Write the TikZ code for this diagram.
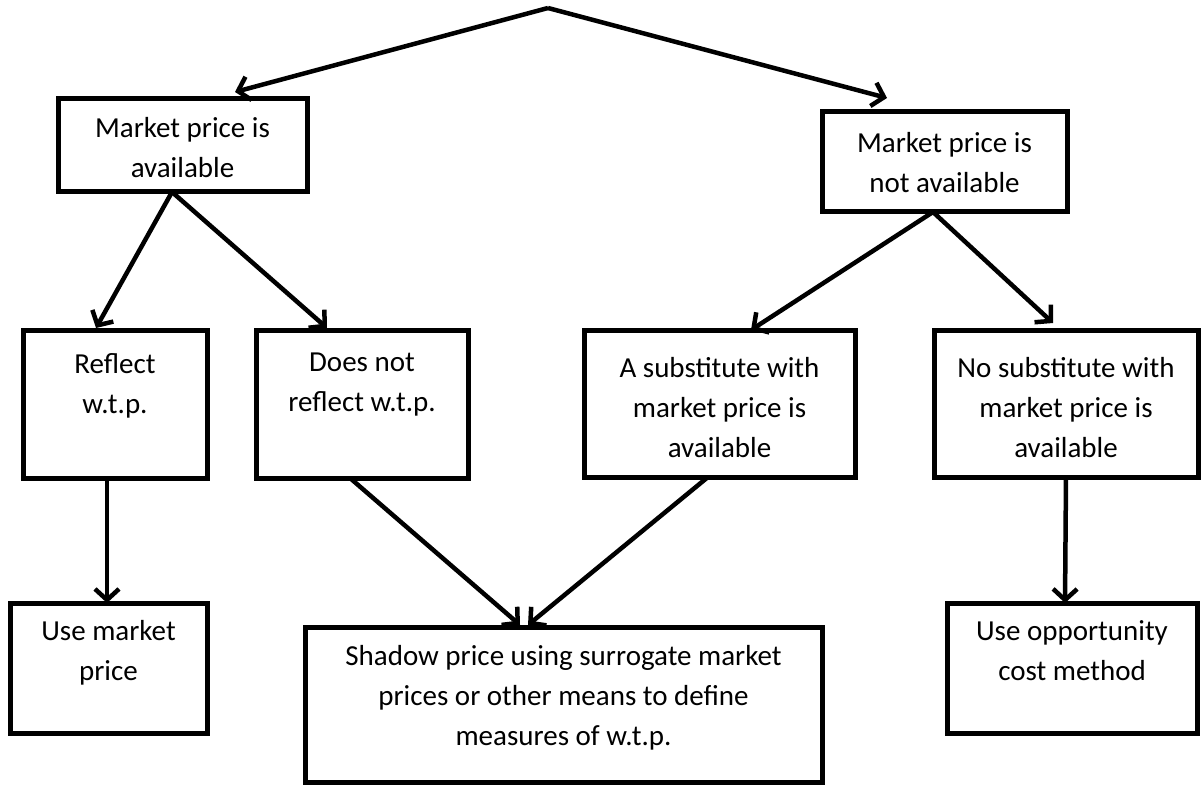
\documentclass[tikz,border=0pt]{standalone}
\usepackage{fontspec}
\setmainfont{Carlito}
\usetikzlibrary{arrows.meta}
\begin{document}
\begin{tikzpicture}[x=1pt,y=-1pt,
  box/.style={draw, line width=5pt, inner sep=0pt, outer sep=0pt},
  txt/.style={font=\fontsize{29}{40}\selectfont, align=center, anchor=north, inner sep=0pt},
  conn/.style={line width=4.5pt, -{Straight Barb[length=11pt,width=24pt,line width=4.5pt]}}]
\useasboundingbox (0,0) rectangle (1201,786);
\fill[white] (0,0) rectangle (1201,786);
% boxes
\node[box, minimum width=249pt, minimum height=93pt]  (A)  at (182.5,145.5) {};
\node[box, minimum width=245pt, minimum height=100pt] (B)  at (944.5,162) {};
\node[box, minimum width=184pt, minimum height=148pt] (R1) at (115,404) {};
\node[box, minimum width=212pt, minimum height=148pt] (R2) at (362,404) {};
\node[box, minimum width=271pt, minimum height=147pt] (R3) at (719.5,403.5) {};
\node[box, minimum width=264pt, minimum height=147pt] (R4) at (1066,403.5) {};
\node[box, minimum width=197pt, minimum height=130pt] (L1) at (108.5,668) {};
\node[box, minimum width=517pt, minimum height=155pt] (L2) at (563.5,704.5) {};
\node[box, minimum width=250pt, minimum height=130pt] (L3) at (1072,668) {};
% texts
\node[txt] (At)  at (182.5,117) {Market price is\\available};
\node[txt] (Bt)  at (944.5,132) {Market price is\\not available};
\node[txt] (R1t) at (115,353) {Reflect\\w.t.p.};
\node[txt] (R2t) at (362,353) {Does not\\reflect w.t.p.};
\node[txt] (R3t) at (719.5,357) {A substitute with\\market price is\\available};
\node[txt] (R4t) at (1066,357) {No substitute with\\market price is\\available};
\node[txt] (L1t) at (108.5,620) {Use market\\price};
\node[txt] (L2t) at (563.5,645) {Shadow price using surrogate market\\prices or other means to define\\measures of w.t.p.};
\node[txt] (L3t) at (1072,620) {Use opportunity\\cost method};
% connectors
\coordinate (top) at (548,8);
\draw[conn] (top) -- ([shift={(52.5,-7)}]A.north);
\draw[conn] (top) -- ([shift={(-57.5,-14)}]B.north);
\draw[conn] ([shift={(-10.5,0)}]A.south) -- ([shift={(-19,-2)}]R1.north);
\draw[conn] ([shift={(-10.5,0)}]A.south) -- ([shift={(-35,-2)}]R2.north);
\draw[conn] ([shift={(-11.5,0)}]B.south) -- ([shift={(31.5,0)}]R3.north);
\draw[conn] ([shift={(-11.5,0)}]B.south) -- ([shift={(-13,-7)}]R4.north);
\draw[conn] ([shift={(-8,0)}]R1.south) -- ([shift={(-1.5,0)}]L1.north);
\draw[conn] ([shift={(-12,0)}]R2.south) -- ([shift={(-43.5,-2)}]L2.north);
\draw[conn] ([shift={(-11.5,0)}]R3.south) -- ([shift={(-35.5,-2)}]L2.north);
\draw[conn] ([shift={(0,0)}]R4.south) -- ([shift={(-7,0)}]L3.north);
\end{tikzpicture}
\end{document}
